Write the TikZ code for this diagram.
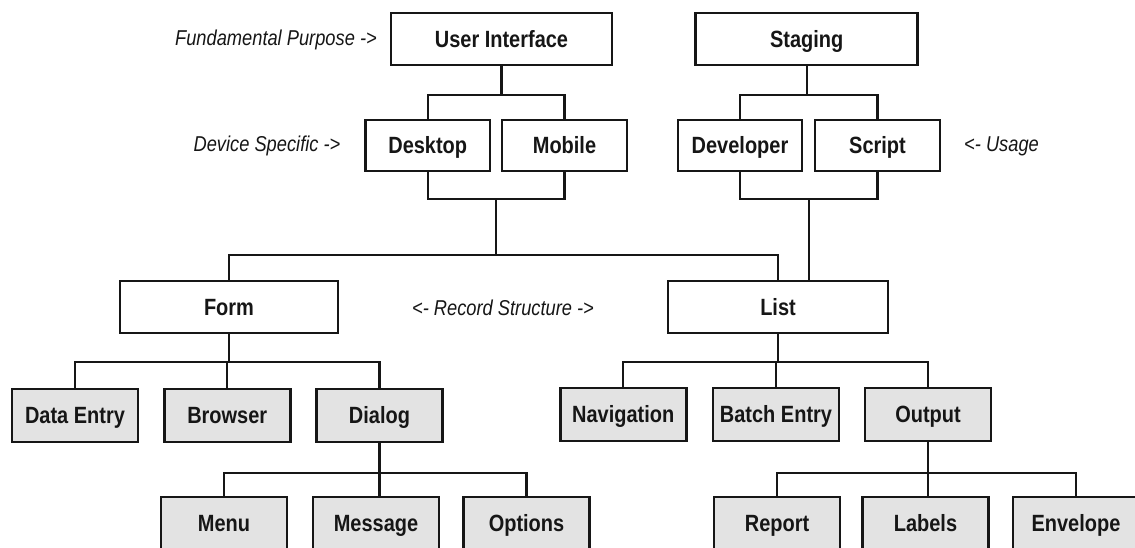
\documentclass[tikz,border=0pt]{standalone}
\usepackage{fontspec}
\setmainfont{Liberation Sans}[FakeStretch=0.85]
\usetikzlibrary{calc}
\definecolor{boxgray}{HTML}{E3E3E3}
\definecolor{ink}{HTML}{161616}
\begin{document}
\begin{tikzpicture}[x=1pt,y=-1pt,
  box/.style={draw=ink, line width=2.6pt, fill=white, inner sep=0pt, minimum height=52pt,
              font=\fontsize{23.5}{28}\selectfont\bfseries, text=ink,
              text height=16.8pt, text depth=0pt},
  gbox/.style={box, fill=boxgray, minimum width=126pt, minimum height=53pt},
  conn/.style={draw=ink, line width=2.2pt},
  note/.style={font=\fontsize{21.5}{25}\selectfont\itshape, text=ink, inner sep=0pt}]
\useasboundingbox (0,0) rectangle (1135,548);
\clip (0,0) rectangle (1135,548);

% bus levels
\coordinate (busA) at (0,95);
\coordinate (busB) at (0,199);
\coordinate (busC) at (0,255);
\coordinate (busD) at (0,362);
\coordinate (busE) at (0,473);

% top level
\node[box, minimum width=221pt] (ui) at (501.5,39) {User Interface};
\node[box, minimum width=222pt] (stg) at (806.75,39) {Staging};

% level 2
\node[box, minimum width=124.5pt, minimum height=51pt] (desk) at (427.75,145.5) {Desktop};
\node[box, minimum width=125pt, minimum height=51pt] (mob) at (564.5,145.5) {Mobile};
\node[box, minimum width=124pt, minimum height=51pt] (dev) at (740,145.5) {Developer};
\node[box, minimum width=125pt, minimum height=51pt] (scr) at (877.5,145.5) {Script};

% record structure
\node[box, minimum width=218pt] (form) at (229,307) {Form};
\node[box, minimum width=220pt] (list) at (778,307) {List};

% level 3
\node[gbox] (de) at (75,415.5) {Data Entry};
\node[gbox] (br) at (227.25,415.5) {Browser};
\node[gbox] (dlg) at (379.5,415.5) {Dialog};
\node[gbox] (nav) at (623.25,414.5) {Navigation};
\node[gbox] (bat) at (776,414.5) {Batch Entry};
\node[gbox] (out) at (928,414.5) {Output};

% level 4
\node[gbox] (menu) at (224,523.5) {Menu};
\node[gbox] (msg) at (376,523.5) {Message};
\node[gbox] (opt) at (526.5,523.5) {Options};
\node[gbox] (rep) at (777,523.5) {Report};
\node[gbox] (lab) at (925.5,523.5) {Labels};
\node[gbox] (env) at (1076,523.5) {Envelope};

% notes
\node[note, anchor=east] (n1) at (377,40) {Fundamental Purpose ->};
\node[note, anchor=east] (n2) at (340.6,146) {Device Specific ->};
\node[note, anchor=west] (n3) at (964,146) {<- Usage};
\node[note] (n4) at (503,308) {<- Record Structure ->};

% connectors: user interface -> desktop / mobile
\draw[conn] (ui.south) -- (ui.south |- busA);
\draw[conn] (desk.north) -- (desk.north |- busA) -- (mob.north |- busA) -- (mob.north);
% staging -> developer / script
\draw[conn] (stg.south) -- (stg.south |- busA);
\draw[conn] (dev.north) -- (dev.north |- busA) -- (scr.north |- busA) -- (scr.north);

% desktop / mobile -> form / list
\draw[conn] (desk.south) -- (desk.south |- busB) -- (mob.south |- busB) -- (mob.south);
\coordinate (dm) at ($(desk.south)!0.5!(mob.south)$);
\draw[conn] (dm |- busB) -- (dm |- busC);
\draw[conn] (form.north) -- (form.north |- busC) -- (list.north |- busC) -- (list.north);

% developer / script -> list
\draw[conn] (dev.south) -- (dev.south |- busB) -- (scr.south |- busB) -- (scr.south);
\coordinate (ds) at ($(dev.south)!0.5!(scr.south)$);
\draw[conn] (ds |- busB) -- (ds |- list.north);

% form -> level 3
\draw[conn] (form.south) -- (form.south |- busD);
\draw[conn] (de.north) -- (de.north |- busD) -- (dlg.north |- busD) -- (dlg.north);
\draw[conn] (br.north |- busD) -- (br.north);

% list -> level 3
\draw[conn] (list.south) -- (list.south |- busD);
\draw[conn] (nav.north) -- (nav.north |- busD) -- (out.north |- busD) -- (out.north);
\draw[conn] (bat.north |- busD) -- (bat.north);

% dialog -> level 4
\draw[conn] (dlg.south) -- (dlg.south |- busE);
\draw[conn] (menu.north) -- (menu.north |- busE) -- (opt.north |- busE) -- (opt.north);
\draw[conn] (dlg.south |- busE) -- (dlg.south |- msg.north);

% output -> level 4
\draw[conn] (out.south) -- (out.south |- busE);
\draw[conn] (rep.north) -- (rep.north |- busE) -- (env.north |- busE) -- (env.north);
\draw[conn] (out.south |- busE) -- (out.south |- lab.north);
\end{tikzpicture}
\end{document}
